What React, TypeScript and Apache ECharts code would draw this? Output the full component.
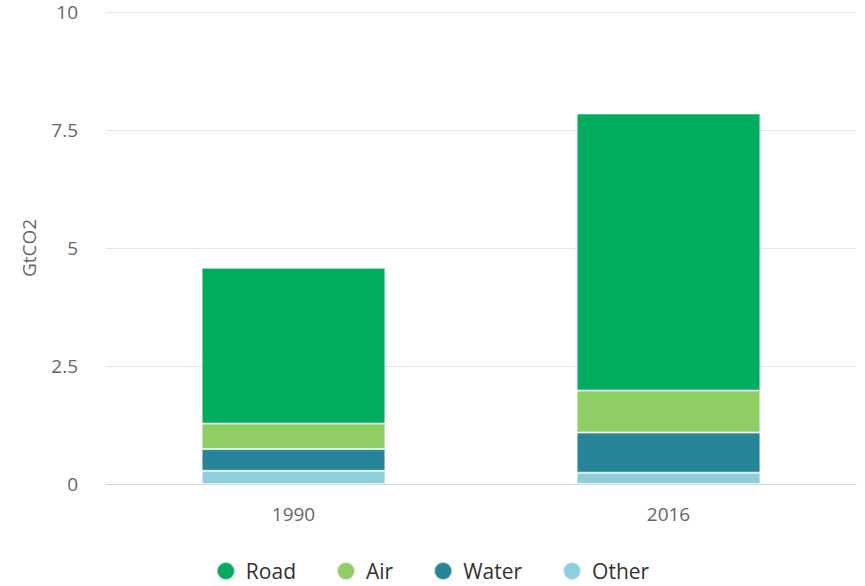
import React, { useEffect, useRef } from "react";
import * as echarts from "echarts";

const categories = ["1990", "2016"];
const road = [3.3, 5.87];
const air = [0.54, 0.89];
const water = [0.46, 0.85];
const other = [0.28, 0.24];
const yTicks = [0, 2.5, 5, 7.5, 10];

const colors: Record<string, string> = { Road: "#00ad5e", Air: "#8ecf63", Water: "#268598", Other: "#8fcfdb" };

export default function App() {
  const ref = useRef<HTMLDivElement>(null);
  useEffect(() => {
    if (!ref.current) return;
    const chart = echarts.init(ref.current, undefined, { renderer: "svg" });
    const mk = (name: string, data: number[]) => ({
      name,
      type: "bar",
      stack: "total",
      data,
      barWidth: "49%",
      itemStyle: { color: colors[name], borderColor: "rgba(255,255,255,0.6)", borderWidth: 1 },
    });
    chart.setOption({
      animation: false,
      textStyle: { fontFamily: "Open Sans" },
      grid: { left: 106, right: 9, top: 12, bottom: 102 },
      legend: {
        top: 560,
        left: "center",
        padding: 0,
        icon: "path://M50,0 A50,50 0 1,1 50,100 A50,50 0 1,1 50,0 Z",
        itemWidth: 18,
        itemHeight: 22,
        itemGap: 40,
        data: ["Road", "Air", "Water", "Other"],
        textStyle: { fontSize: 21, lineHeight: 22, color: "#333333", fontFamily: "Open Sans", padding: [0, 0, 0, 6] },
      },
      xAxis: {
        type: "category",
        data: categories,
        axisTick: { show: false },
        axisLine: { lineStyle: { color: "#ccd6eb", width: 1 } },
        axisLabel: { fontSize: 19, color: "#666666", margin: 20 },
      },
      yAxis: {
        type: "value",
        min: yTicks[0],
        max: yTicks[yTicks.length - 1],
        interval: 2.5,
        name: "GtCO2",
        nameLocation: "middle",
        nameGap: 68,
        nameTextStyle: { fontSize: 19, color: "#666666" },
        axisLabel: { fontSize: 19, color: "#666666", margin: 28 },
        splitLine: { lineStyle: { color: "#e6e6e6" } },
      },
      series: [mk("Other", other), mk("Water", water), mk("Air", air), mk("Road", road)],
    });
    return () => chart.dispose();
  }, []);
  return <div ref={ref} style={{ position: "absolute", left: 0, top: 0, width: 865, height: 586 }} />;
}
